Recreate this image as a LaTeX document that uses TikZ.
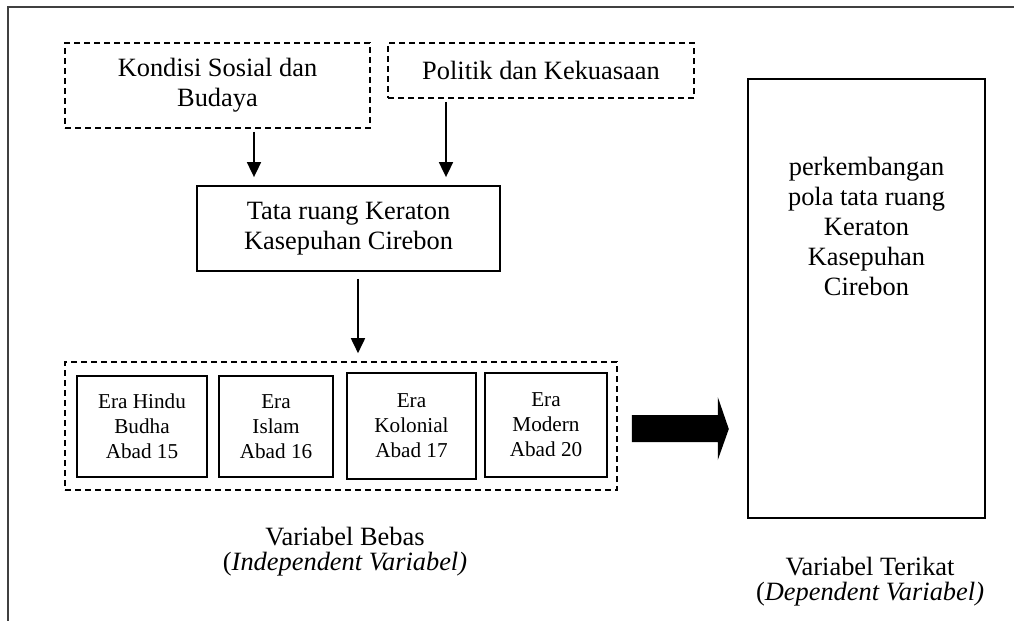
\documentclass[tikz,border=0pt]{standalone}
\usepackage{fontspec}
\setmainfont{Liberation Serif}
\usetikzlibrary{arrows.meta,calc}

\begin{document}
\begin{tikzpicture}[x=0.5pt,y=-0.5pt,
    frame/.style={line width=1.2pt, black!75},
    dbox/.style={draw, dash pattern=on 3pt off 2pt, line width=0.8pt, align=center, inner sep=0pt},
    sbox/.style={draw, line width=0.9pt, align=center, inner sep=0pt},
    big/.style={font=\fontsize{13.2}{15}\selectfont},
    small/.style={font=\fontsize{10.6}{12.5}\selectfont},
    caption/.style={align=center, font=\fontsize{13.2}{12.5}\selectfont},
    flow/.style={line width=0.9pt, -{Triangle[width=7pt,length=7.5pt]}, shorten >=4pt, shorten <=1.5pt}]
    \useasboundingbox (0,0) rectangle (1014,621);
    \draw [frame] (1014,7) -- (8,7) -- (8,621);

    % faktor luar
    \node [dbox, big, minimum width=152.5pt, minimum height=42.5pt] (sosial) at (217.5,85.5) {Kondisi Sosial dan\\Budaya};
    \node [dbox, big, minimum width=153pt, minimum height=27.5pt] (politik) at (541,70.5) {Politik dan Kekuasaan};
    \node [sbox, big, minimum width=151.5pt, minimum height=42.5pt] (tataruang) at (348.5,228.5) {Tata ruang Keraton\\Kasepuhan Cirebon};

    % era
    \node [dbox, minimum width=276pt, minimum height=64pt] (era) at (341,426) {};
    \node [sbox, small, minimum width=65pt, minimum height=50.5pt] (hindu) at (142,426.5) {Era Hindu\\Budha\\Abad 15};
    \node [sbox, small, minimum width=57pt, minimum height=50.5pt] (islam) at (276,426.5) {Era\\Islam\\Abad 16};
    \node [sbox, small, minimum width=64.5pt, minimum height=53pt] (kolonial) at (411.5,426) {Era\\Kolonial\\Abad 17};
    \node [sbox, small, minimum width=61pt, minimum height=52pt] (modern) at (546,425) {Era\\Modern\\Abad 20};

    % variabel terikat
    \node [sbox, minimum width=118.5pt, minimum height=219.5pt] (pola) at (866.5,298.5) {};
    \node [big, align=center] (polatext) at (866.5,226) {perkembangan\\pola tata ruang\\Keraton\\Kasepuhan\\Cirebon};

    \node [caption] (bebas) at (345,552) {Variabel Bebas\\(\textit{Independent Variabel)}};
    \node [caption] (terikat) at (870,582) {Variabel Terikat\\(\textit{Dependent Variabel)}};

    \draw [flow] ($(sosial.south)+(36.5,0)$) -- ($(tataruang.north)+(-94.5,0)$);
    \draw [flow] ($(politik.south)+(-95,0)$) -- ($(tataruang.north)+(97.5,0)$);
    \draw [flow, shorten <=3.5pt] ($(tataruang.south)+(9.5,0)$) -- ($(era.north)+(17,0)$);

    \fill [shift={(era.east)}] (14,-11) -- (100,-11) -- (100,-29) -- (111,3) -- (100,34) -- (100,16) -- (14,16) -- cycle;
\end{tikzpicture}
\end{document}
